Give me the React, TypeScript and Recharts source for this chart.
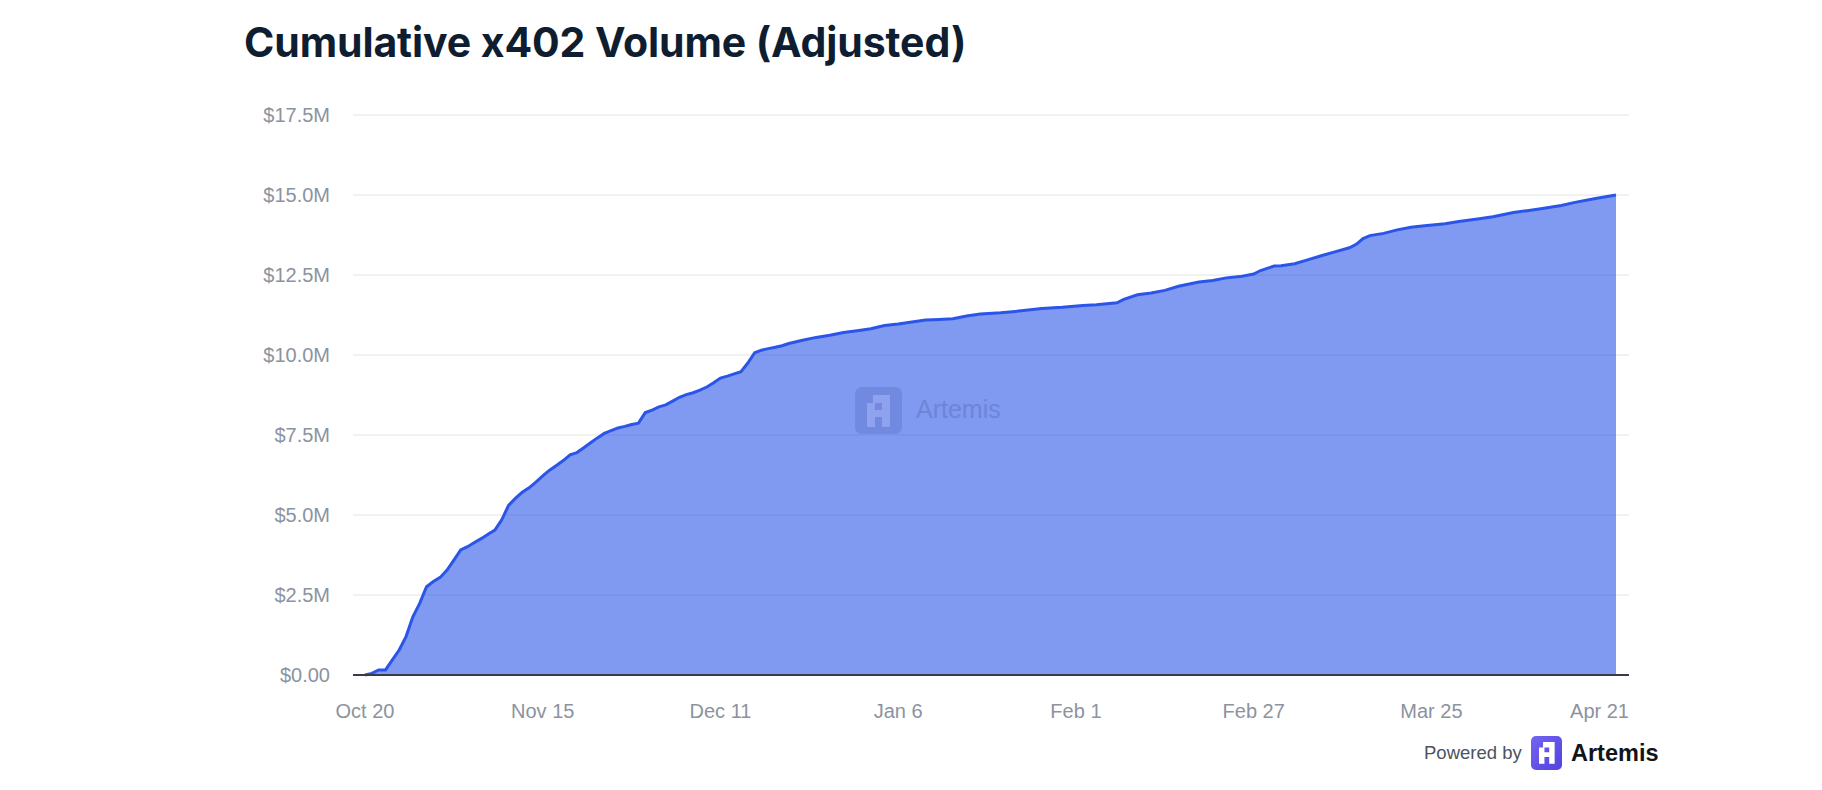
import { Area, AreaChart, CartesianGrid, XAxis, YAxis } from 'recharts';

// Cumulative volume in $M (daily early on, sparser later)
const dates = [
  '2025-10-20', '2025-10-21', '2025-10-22', '2025-10-23', '2025-10-24', '2025-10-25', '2025-10-26',
  '2025-10-27', '2025-10-28', '2025-10-29', '2025-10-30', '2025-10-31', '2025-11-01', '2025-11-02',
  '2025-11-03', '2025-11-04', '2025-11-05', '2025-11-06', '2025-11-07', '2025-11-08', '2025-11-09',
  '2025-11-10', '2025-11-11', '2025-11-12', '2025-11-13', '2025-11-14', '2025-11-15', '2025-11-16',
  '2025-11-17', '2025-11-18', '2025-11-19', '2025-11-20', '2025-11-21', '2025-11-22', '2025-11-23',
  '2025-11-24', '2025-11-25', '2025-11-26', '2025-11-27', '2025-11-28', '2025-11-29', '2025-11-30',
  '2025-12-01', '2025-12-02', '2025-12-03', '2025-12-04', '2025-12-05', '2025-12-06', '2025-12-07',
  '2025-12-08', '2025-12-09', '2025-12-10', '2025-12-11', '2025-12-12', '2025-12-13', '2025-12-14',
  '2025-12-15', '2025-12-16', '2025-12-17', '2025-12-18', '2025-12-19', '2025-12-20', '2025-12-21',
  '2025-12-23', '2025-12-25', '2025-12-27', '2025-12-29', '2025-12-31', '2026-01-02', '2026-01-04',
  '2026-01-06', '2026-01-08', '2026-01-10', '2026-01-12', '2026-01-14', '2026-01-16', '2026-01-18',
  '2026-01-21', '2026-01-24', '2026-01-27', '2026-01-30', '2026-02-02', '2026-02-04', '2026-02-07',
  '2026-02-08', '2026-02-10', '2026-02-12', '2026-02-14', '2026-02-16', '2026-02-19', '2026-02-21',
  '2026-02-23', '2026-02-25', '2026-02-27', '2026-02-28', '2026-03-02', '2026-03-03', '2026-03-05',
  '2026-03-07', '2026-03-09', '2026-03-11', '2026-03-13', '2026-03-14', '2026-03-15', '2026-03-16',
  '2026-03-18', '2026-03-20', '2026-03-22', '2026-03-24', '2026-03-27', '2026-03-29', '2026-04-01',
  '2026-04-03', '2026-04-06', '2026-04-08', '2026-04-10', '2026-04-13', '2026-04-15', '2026-04-18',
  '2026-04-21',
];

const volume = [
  0, 0.05, 0.16, 0.16, 0.47, 0.78, 1.2,
  1.82, 2.24, 2.76, 2.92, 3.05, 3.28, 3.59,
  3.91, 4.01, 4.14, 4.26, 4.4, 4.53, 4.85,
  5.3, 5.52, 5.71, 5.85, 6.03, 6.22, 6.4,
  6.55, 6.7, 6.88, 6.95, 7.1, 7.26, 7.41,
  7.55, 7.64, 7.72, 7.77, 7.83, 7.87, 8.2,
  8.28, 8.38, 8.44, 8.56, 8.68, 8.76, 8.82,
  8.9, 9.0, 9.13, 9.28, 9.34, 9.41, 9.48,
  9.75, 10.07, 10.15, 10.2, 10.24, 10.29, 10.36,
  10.46, 10.55, 10.62, 10.7, 10.76, 10.82, 10.92,
  10.97, 11.03, 11.09, 11.11, 11.13, 11.22, 11.28,
  11.32, 11.38, 11.45, 11.49, 11.55, 11.57, 11.63,
  11.74, 11.88, 11.94, 12.02, 12.15, 12.28, 12.33,
  12.41, 12.45, 12.53, 12.64, 12.78, 12.79, 12.85,
  12.98, 13.11, 13.23, 13.35, 13.46, 13.64, 13.73,
  13.8, 13.91, 13.99, 14.04, 14.1, 14.17, 14.26,
  14.32, 14.45, 14.51, 14.57, 14.67, 14.77, 14.89,
  15.0,
];

const tickDates = [
  '2025-10-20', '2025-11-15', '2025-12-11', '2026-01-06',
  '2026-02-01', '2026-02-27', '2026-03-25', '2026-04-21',
];
const tickLabels = ['Oct 20', 'Nov 15', 'Dec 11', 'Jan 6', 'Feb 1', 'Feb 27', 'Mar 25', 'Apr 21'];
const yTicks = [0, 2.5, 5, 7.5, 10, 12.5, 15, 17.5];

const toTime = (d: string) => Date.parse(d + 'T00:00:00Z');
const data = dates.map((d, i) => ({ t: toTime(d), v: volume[i] }));
const tickTimes = tickDates.map(toTime);

const BLUE = '#2b55e8';
const SANS = '"Liberation Sans", Arial, sans-serif';
const TICK_GRAY = '#8b939f';

function formatMillions(v: number) {
  return v === 0 ? '$0.00' : `$${v.toFixed(1)}M`;
}

// last label is pulled in so it ends at the plot edge, like the original
function DateTick(props: any) {
  const { x, y, payload } = props;
  const i = tickTimes.indexOf(payload.value);
  const last = i === tickTimes.length - 1;
  return (
    <text
      x={x}
      y={y}
      dy="0.71em"
      dx={last ? 13 : 0}
      textAnchor={last ? 'end' : 'middle'}
      fill={TICK_GRAY}
      fontSize={20}
      fontFamily={SANS}
    >
      {tickLabels[i]}
    </text>
  );
}

function LogoGlyph({ color }: { color: string }) {
  return (
    <path
      fillRule="evenodd"
      fill={color}
      d="M6 0H23V32H15V22H8V32H0V8H6ZM8 8V15H15V8Z"
    />
  );
}

export default function App() {
  return (
    <div style={{ position: 'relative', width: 1822, height: 790, background: '#fff', overflow: 'hidden' }}>
      <style>{'body{margin:0}'}</style>
      <div
        style={{
          position: 'absolute',
          left: 244,
          top: 22,
          fontFamily: 'Inter, sans-serif',
          fontWeight: 700,
          fontSize: 41,
          lineHeight: '40px',
          letterSpacing: -0.1,
          color: '#0f1d31',
          whiteSpace: 'nowrap',
        }}
      >
        Cumulative x402 Volume (Adjusted)
      </div>

      <div style={{ position: 'absolute', left: 0, top: 0 }}>
        <AreaChart width={1822} height={790} data={data} margin={{ top: 115, right: 193, bottom: 55, left: 0 }}>
          <CartesianGrid vertical={false} stroke="#ececec" strokeWidth={1.5} />
          <XAxis
            type="number"
            dataKey="t"
            domain={[tickTimes[0], tickTimes[tickTimes.length - 1]]}
            ticks={tickTimes}
            interval={0}
            padding={{ left: 12, right: 13 }}
            axisLine={{ stroke: '#383d45', strokeWidth: 1.8 }}
            tickLine={false}
            tickSize={6}
            tickMargin={23}
            height={60}
            tick={<DateTick />}
          />
          <YAxis
            type="number"
            domain={[0, 17.5]}
            ticks={yTicks}
            interval={0}
            width={353}
            axisLine={false}
            tickLine={false}
            tickSize={6}
            tickMargin={17}
            tickFormatter={formatMillions}
            tick={{ fill: TICK_GRAY, fontSize: 20, fontFamily: SANS }}
          />
          <Area
            type="linear"
            dataKey="v"
            stroke={BLUE}
            strokeWidth={3}
            fill={BLUE}
            fillOpacity={0.6}
            dot={false}
            activeDot={false}
            isAnimationActive={false}
          />
        </AreaChart>
      </div>

      <svg width={1822} height={790} style={{ position: 'absolute', left: 0, top: 0, pointerEvents: 'none' }}>
        {/* watermark */}
        <rect x={855} y={387} width={47} height={47} rx={7} fill="#7189df" />
        <g transform="translate(867 395)">
          <LogoGlyph color="#8ea2ef" />
        </g>
        <text x={916} y={418} fontFamily={SANS} fontSize={25} fill="#6e85d8">
          Artemis
        </text>

        {/* footer */}
        <defs>
          <linearGradient id="logoGrad" x1="0" y1="0" x2="1" y2="1">
            <stop offset="0" stopColor="#7565f2" />
            <stop offset="1" stopColor="#5241de" />
          </linearGradient>
        </defs>
        <text x={1424} y={759} fontFamily={SANS} fontSize={18.5} fill="#4b5360">
          Powered by
        </text>
        <rect x={1531} y={736} width={31} height={34} rx={5} fill="url(#logoGrad)" />
        <g transform="translate(1539 742) scale(0.68)">
          <LogoGlyph color="#ffffff" />
        </g>
        <text x={1571} y={761} fontFamily={SANS} fontSize={23.5} fontWeight={700} fill="#111418">
          Artemis
        </text>
      </svg>
    </div>
  );
}
